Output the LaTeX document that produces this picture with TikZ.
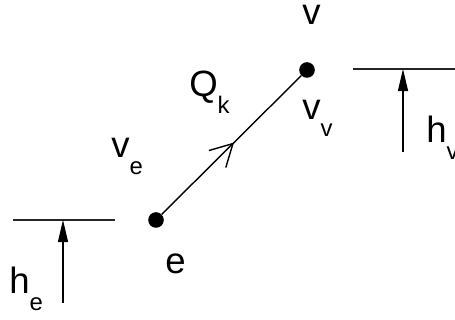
\documentclass[tikz,border=0pt]{standalone}
\usepackage{fontspec}
\setmainfont{Liberation Sans}
\usepackage{tikz}
\usetikzlibrary{arrows.meta, decorations.markings}

\newcommand\mainsize{\fontsize{26}{30}\selectfont}
\newcommand\withsub[2]{#1\raisebox{-12pt}{\fontsize{17}{19}\selectfont #2}}

\begin{document}
\begin{tikzpicture}[
      x=0.025cm, y=-0.025cm,
      dot/.style={circle, fill=black, inner sep=0pt, minimum size=0.39cm},
      lbl/.style={anchor=base west, inner sep=0pt, font=\mainsize},
      level/.style={line width=1pt, black!85},
      hgt/.style={line width=1pt, -{Triangle[length=0.55cm, width=0.25cm]}},
      flow/.style={line width=1pt, postaction={decorate},
        decoration={markings, mark=at position 0.52 with {\arrow{Straight Barb[length=0.55cm, width=0.6cm]}}}}
    ]
    \useasboundingbox (0,0) rectangle (455,320);
    % vertices
    \node[dot] (e) at (156,220) {};
    \node[dot] (v) at (307,70) {};
    \draw[flow] (e) -- (v);
    % labels
    \node[lbl] (vname) at (302,25) {v};
    \node[lbl] (ename) at (165,274) {e};
    \node[lbl] (qk) at (189,97) {\withsub{Q}{k}};
    \node[lbl] (vv) at (302,120) {\withsub{v}{v}};
    \node[lbl] (ve) at (111,158) {\withsub{v}{e}};
    % heights
    \coordinate (he left) at (13,220);
    \coordinate (he right) at (115,220);
    \coordinate (he top) at (63,220);
    \coordinate (he base) at (63,303);
    \draw[level] (he left) -- (he right);
    \draw[hgt] (he base) -- (he top);
    \node[lbl] (he) at (9,294) {\withsub{h}{e}};
    \coordinate (hv left) at (353,69);
    \coordinate (hv right) at (455,69);
    \coordinate (hv top) at (403,69);
    \coordinate (hv base) at (403,152);
    \draw[level] (hv left) -- (hv right);
    \draw[hgt] (hv base) -- (hv top);
    \node[lbl] (hv) at (426,143) {\withsub{h}{v}};
  \end{tikzpicture}
\end{document}
